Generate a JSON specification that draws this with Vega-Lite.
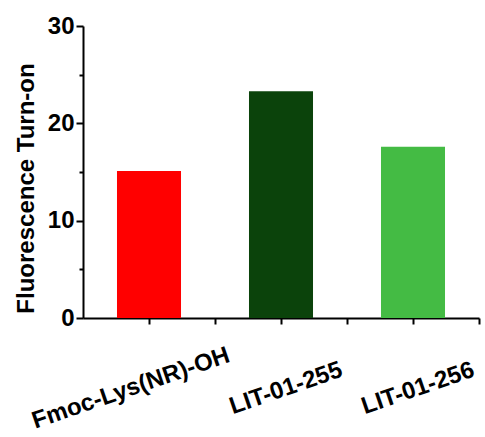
{
  "$schema": "https://vega.github.io/schema/vega-lite/v6.json",
  "width": 396,
  "height": 292,
  "autosize": {"type": "none"},
  "padding": {"left": 83, "top": 26, "right": 6, "bottom": 119},
  "background": "white",
  "config": {"view": {"stroke": null}, "font": "Liberation Sans"},
  "data": {"values": [
    {"compound": "Fmoc-Lys(NR)-OH", "turnon": 15.1},
    {"compound": "LIT-01-255", "turnon": 23.3},
    {"compound": "LIT-01-256", "turnon": 17.6}
  ]},
  "layer": [
    {
      "mark": {"type": "bar"},
      "encoding": {
        "x": {"field": "compound", "type": "nominal", "sort": null,
          "scale": {"paddingInner": 0.515, "paddingOuter": 0.2575},
          "axis": {"title": null, "domainColor": "black", "domainWidth": 2, "tickColor": "black", "tickWidth": 2, "tickSize": 6,
            "labelAngle": -19, "labelAlign": "center", "labelBaseline": "middle", "labelFont": "Liberation Sans", "labelFontWeight": "bold", "labelFontSize": 24, "labelColor": "black", "labelPadding": 64, "labelLimit": 0,
            "labelOffset": {"condition": {"test": "datum.value === 'Fmoc-Lys(NR)-OH'", "value": -18}, "value": 5}}},
        "y": {"field": "turnon", "type": "quantitative",
          "scale": {"domain": [0, 30], "nice": false},
          "axis": {"title": "Fluorescence Turn-on", "values": [0, 10, 20, 30], "grid": false, "domainColor": "black", "domainWidth": 2, "tickColor": "black", "tickWidth": 2, "tickSize": 7,
            "labelFont": "Liberation Sans", "labelFontWeight": "bold", "labelFontSize": 24, "labelColor": "black", "labelPadding": 2,
            "titleFont": "Liberation Sans", "titleFontWeight": "bold", "titleFontSize": 24, "titleColor": "black",
            "titleX": -50, "titleY": 162, "titleAngle": -90, "titleAlign": "center", "titleBaseline": "alphabetic"}},
        "color": {"field": "compound", "type": "nominal", "sort": null, "legend": null,
          "scale": {"domain": ["Fmoc-Lys(NR)-OH", "LIT-01-255", "LIT-01-256"], "range": ["#ff0000", "#0b430b", "#44bb44"]}}
      }
    },
    {
      "mark": {"type": "bar", "opacity": 0},
      "encoding": {
        "x": {"field": "compound", "type": "nominal", "sort": null,
          "axis": {"orient": "bottom", "title": null, "labels": false, "domain": false, "tickOffset": 66, "tickColor": "black", "tickWidth": 2, "tickSize": 6}},
        "y": {"field": "turnon", "type": "quantitative",
          "axis": {"orient": "left", "title": null, "labels": false, "domain": false, "grid": false, "values": [5, 15, 25], "tickColor": "black", "tickWidth": 2, "tickSize": 4}}
      }
    }
  ],
  "resolve": {"axis": {"x": "independent", "y": "independent"}}
}
